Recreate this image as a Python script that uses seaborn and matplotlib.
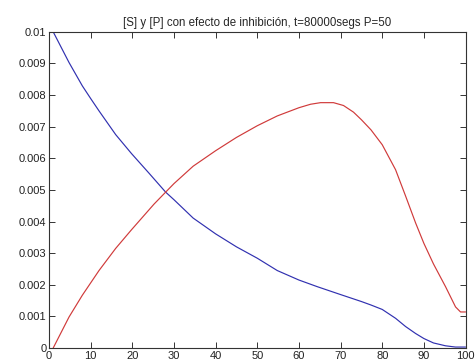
import numpy as np
import pandas as pd
import matplotlib
matplotlib.use("Agg")
import matplotlib.pyplot as plt
import seaborn as sns

# Substrate [S] over time (sampled positions)
t_s = [1, 4.8, 8, 10, 12, 16, 19.8, 24, 25.2, 28, 30, 34.6, 40, 45, 50,
       54.8, 60, 64.4, 70, 75, 77.3, 80, 83.2, 85.6, 88, 90, 92.3, 95.2,
       97.6, 100]
s_vals = [0.0100, 0.00903, 0.00829, 0.00789, 0.00750, 0.00675, 0.00615,
          0.00553, 0.00535, 0.00493, 0.00469, 0.00411, 0.00361, 0.00320,
          0.00284, 0.00245, 0.00215, 0.00194, 0.00169, 0.00147, 0.00136,
          0.00122, 0.00094, 0.00068, 0.00046, 0.0003, 0.00016, 0.00007,
          0.00003, 0.00003]

# Product [P] over time
t_p = [1, 4.8, 8, 10, 12, 16, 19.8, 24, 25.2, 28, 30, 34.6, 40, 45, 50,
       54.8, 60, 62.8, 65.2, 68.3, 70.7, 73.1, 75, 77.3, 80, 83.2, 85.6, 88,
       90, 92.3, 95.2, 97.6, 98.8, 100]
p_vals = [0.0, 0.00098, 0.00167, 0.00206, 0.00245, 0.00315, 0.00374,
          0.00437, 0.00455, 0.00493, 0.00520, 0.00575, 0.00624, 0.00666,
          0.00703, 0.00734, 0.00760, 0.00771, 0.00776, 0.00776, 0.00767,
          0.00746, 0.00722, 0.00690, 0.00643, 0.00564, 0.00481, 0.00396,
          0.00331, 0.00266, 0.00194, 0.0013, 0.00114, 0.00114]

title = "[S] y [P] con efecto de inhibición, t=80000segs P=50"

df = pd.concat([
    pd.DataFrame({"t": t_s, "c": s_vals, "serie": "S"}),
    pd.DataFrame({"t": t_p, "c": p_vals, "serie": "P"}),
], ignore_index=True)

sns.set_style("white")
plt.rcParams["font.family"] = ["Liberation Sans", "DejaVu Sans"]

fig = plt.figure(figsize=(4.76, 3.63), dpi=100)
ax = fig.add_axes([0.103, 0.0413, 0.875, 0.871])

sns.lineplot(data=df, x="t", y="c", hue="serie", sort=False,
             palette={"S": "#3030b0", "P": "#d03a3a"},
             linewidth=0.85, legend=False, ax=ax)

ax.set_xlim(0, 100)
ax.set_ylim(0, 0.01)
ax.set_xticks(np.arange(0, 101, 10))
ax.set_yticks(np.arange(0, 0.0101, 0.001))
ax.set_yticklabels(["0", "0.001", "0.002", "0.003", "0.004", "0.005",
                    "0.006", "0.007", "0.008", "0.009", "0.01"])
ax.set_xlabel("")
ax.set_ylabel("")
ax.set_title(title, fontsize=8.3, pad=4)

for sp in ax.spines.values():
    sp.set_visible(True)
    sp.set_color("#333333")
    sp.set_linewidth(0.8)
ax.tick_params(direction="in", length=4, width=0.7, color="#333333",
               labelsize=8, labelcolor="#222222", top=True, right=True,
               bottom=True, left=True, pad=2)

fig.savefig("out.png", dpi=100, facecolor="white")
